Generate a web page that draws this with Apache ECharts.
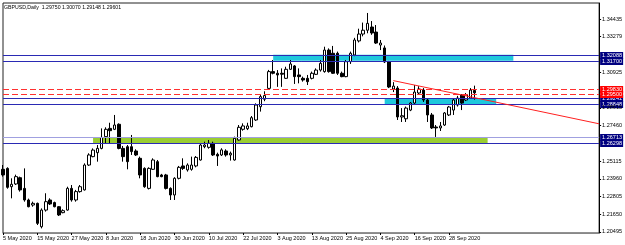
<!DOCTYPE html>
<html>
<head>
<meta charset="utf-8">
<script src="https://cdn.jsdelivr.net/npm/echarts@6/dist/echarts.min.js"></script>
<style>
html, body { margin: 0; padding: 0; background: #fff; }
#chart { width: 625px; height: 245px; }
</style>
</head>
<body>
<div id="chart"></div>
<script>
// daily bars from 5 May 2020
const opens = [
  1.2459, 1.2465, 1.2345, 1.2363, 1.2404, 1.2334, 1.2258, 1.2225, 1.2236, 1.2083,
  1.2192, 1.2258, 1.2241, 1.2214, 1.2175, 1.2192, 1.2334, 1.2258, 1.2313, 1.2324,
  1.2487, 1.2542, 1.2568, 1.2596, 1.2673, 1.2727, 1.2721, 1.2754, 1.2596, 1.2607,
  1.2607, 1.2579, 1.2531, 1.2465, 1.2334, 1.2459, 1.2509, 1.2422, 1.2422, 1.2334,
  1.2291, 1.2400, 1.2481, 1.2455, 1.2459, 1.2481, 1.2520, 1.2607, 1.2603, 1.2629,
  1.2557, 1.2553, 1.2579, 1.2553, 1.2520, 1.2651, 1.2721, 1.2725, 1.2738, 1.2782,
  1.2869, 1.2918, 1.2989, 1.3099, 1.3088, 1.3088, 1.3055, 1.3114, 1.3136, 1.3077,
  1.3055, 1.3055, 1.3055, 1.3081, 1.3109, 1.3099, 1.3240, 1.3219, 1.3219, 1.3088,
  1.3066, 1.3164, 1.3208, 1.3300, 1.3345, 1.3370, 1.3391, 1.3358, 1.3273, 1.3254,
  1.3162, 1.2985, 1.2991, 1.2802, 1.2790, 1.2847, 1.2893, 1.2959, 1.2978, 1.2913,
  1.2815, 1.2736, 1.2730, 1.2749, 1.2815, 1.2847, 1.2880, 1.2946, 1.2913, 1.2926,
  1.29750
];
const closes = [
  1.2422, 1.2341, 1.2361, 1.2411, 1.2324, 1.2258, 1.2214, 1.2236, 1.2105, 1.2192,
  1.2247, 1.2232, 1.2214, 1.2160, 1.2188, 1.2334, 1.2258, 1.2313, 1.2345, 1.2487,
  1.2553, 1.2585, 1.2596, 1.2668, 1.2721, 1.2712, 1.2749, 1.2596, 1.2542, 1.2509,
  1.2575, 1.2553, 1.2422, 1.2345, 1.2465, 1.2520, 1.2411, 1.2411, 1.2334, 1.2291,
  1.2400, 1.2472, 1.2465, 1.2487, 1.2487, 1.2537, 1.2618, 1.2618, 1.2629, 1.2553,
  1.2546, 1.2586, 1.2553, 1.2564, 1.2662, 1.2734, 1.2743, 1.2743, 1.2797, 1.2880,
  1.2935, 1.2942, 1.3099, 1.3088, 1.3077, 1.3082, 1.3114, 1.3149, 1.3066, 1.3066,
  1.3044, 1.3033, 1.3088, 1.3109, 1.3153, 1.3240, 1.3099, 1.3088, 1.3088, 1.3066,
  1.3164, 1.3219, 1.3306, 1.3345, 1.3370, 1.3415, 1.3352, 1.3286, 1.3286, 1.3162,
  1.2998, 1.3004, 1.2802, 1.2810, 1.2860, 1.2893, 1.2965, 1.2985, 1.2913, 1.2815,
  1.2730, 1.2730, 1.2743, 1.2828, 1.2867, 1.2913, 1.2926, 1.2893, 1.2946, 1.2978,
  1.29601
];
const lows = [
  1.2411, 1.2332, 1.2269, 1.2356, 1.2313, 1.2247, 1.2210, 1.2214, 1.2094, 1.2072,
  1.2182, 1.2225, 1.2210, 1.2153, 1.2171, 1.2188, 1.2247, 1.2247, 1.2306, 1.2320,
  1.2481, 1.2538, 1.2509, 1.2590, 1.2629, 1.2629, 1.2716, 1.2590, 1.2509, 1.2459,
  1.2553, 1.2546, 1.2400, 1.2338, 1.2327, 1.2455, 1.2407, 1.2407, 1.2327, 1.2258,
  1.2258, 1.2393, 1.2455, 1.2444, 1.2450, 1.2472, 1.2516, 1.2597, 1.2594, 1.2546,
  1.2481, 1.2546, 1.2542, 1.2516, 1.2516, 1.2647, 1.2712, 1.2716, 1.2734, 1.2776,
  1.2837, 1.2905, 1.2982, 1.3081, 1.2999, 1.2999, 1.3051, 1.3110, 1.3018, 1.3022,
  1.3033, 1.3011, 1.3048, 1.3077, 1.3099, 1.3092, 1.3092, 1.3084, 1.3077, 1.3062,
  1.3062, 1.3149, 1.3200, 1.3290, 1.3330, 1.3350, 1.3340, 1.3280, 1.3240, 1.3155,
  1.2991, 1.2965, 1.2782, 1.2769, 1.2769, 1.2840, 1.2880, 1.2952, 1.2900, 1.2769,
  1.2723, 1.2671, 1.2710, 1.2743, 1.2808, 1.2815, 1.2870, 1.2847, 1.2906, 1.2920,
  1.29148
];
const highs = [
  1.2487, 1.2472, 1.2400, 1.2424, 1.2411, 1.2465, 1.2267, 1.2247, 1.2241, 1.2203,
  1.2302, 1.2269, 1.2247, 1.2218, 1.2197, 1.2345, 1.2356, 1.2324, 1.2356, 1.2498,
  1.2564, 1.2596, 1.2618, 1.2727, 1.2734, 1.2764, 1.2815, 1.2760, 1.2612, 1.2618,
  1.2684, 1.2590, 1.2542, 1.2472, 1.2472, 1.2531, 1.2520, 1.2429, 1.2429, 1.2341,
  1.2407, 1.2481, 1.2531, 1.2498, 1.2542, 1.2546, 1.2629, 1.2640, 1.2651, 1.2640,
  1.2568, 1.2597, 1.2590, 1.2575, 1.2673, 1.2749, 1.2760, 1.2764, 1.2808, 1.2891,
  1.2946, 1.2970, 1.3110, 1.3175, 1.3109, 1.3120, 1.3131, 1.3175, 1.3142, 1.3120,
  1.3066, 1.3077, 1.3099, 1.3120, 1.3175, 1.3262, 1.3251, 1.3267, 1.3230, 1.3099,
  1.3175, 1.3230, 1.3320, 1.3380, 1.3420, 1.3483, 1.3430, 1.3404, 1.3306, 1.3270,
  1.3169, 1.3030, 1.3004, 1.2860, 1.2870, 1.2900, 1.3011, 1.3004, 1.2991, 1.2920,
  1.2828, 1.2749, 1.2769, 1.2834, 1.2874, 1.2920, 1.2940, 1.2952, 1.2959, 1.2991,
  1.30070
];

const priceTicks = [1.20495, 1.21650, 1.22805, 1.23960, 1.25115, 1.27460, 1.28615, 1.30925, 1.33279, 1.34435];

// horizontal levels
const blueLevels = [1.32088, 1.31700, 1.29241, 1.28848, 1.26298];
const lightLevels = [1.26713];
const redLevels = [1.29830, 1.29500];

// zones: [fromBar, toBar, low, high]
const cyanZones = [[63, 119, 1.31700, 1.32088], [89, 115, 1.28848, 1.29241]];
const greenZones = [[21, 113, 1.26298, 1.26713]];

// trend line: [bar, price] pairs
const trendLine = [[91, 1.3040], [139, 1.2757]];

const TOTAL_BARS = 140;
const LAST_BAR = opens.length - 1;
const MONTHS = ['Jan', 'Feb', 'Mar', 'Apr', 'May', 'Jun', 'Jul', 'Aug', 'Sep', 'Oct', 'Nov', 'Dec'];

// weekday calendar starting at 5 May 2020
const dates = [];
let t = Date.UTC(2020, 4, 5);
while (dates.length < TOTAL_BARS) {
  const d = new Date(t);
  const wd = d.getUTCDay();
  if (wd !== 0 && wd !== 6) {
    dates.push(d.getUTCDate() + ' ' + MONTHS[d.getUTCMonth()] + ' ' + d.getUTCFullYear());
  }
  t += 86400000;
}

const FONT = "'Liberation Sans', Arial, sans-serif";
const FS = 5.5;

const candles = opens.map((o, i) => [o, closes[i], lows[i], highs[i]]);

// only label bars that have data, every 8th bar
const showDateLabel = idx => idx % 8 === 0 && idx <= LAST_BAR;

const levelDefs = [
  ...blueLevels.map(v => ({ v, color: '#2a2ab4', type: 'solid', box: '#000080' })),
  ...lightLevels.map(v => ({ v, color: '#a0a0e0', type: 'solid', box: '#000080' })),
  ...redLevels.map(v => ({ v, color: '#ff3030', type: [6, 3], box: '#ff0000' })),
];

const lineData = [
  ...levelDefs.map(l => ({
    yAxis: l.v,
    lineStyle: { color: l.color, width: 1, type: l.type, opacity: 1 },
    label: { show: false },
  })),
  [
    { coord: [dates[trendLine[0][0]], trendLine[0][1]], lineStyle: { color: '#ff2020', width: 1, type: 'solid', opacity: 1 }, label: { show: false } },
    { coord: [dates[trendLine[1][0]], trendLine[1][1]] },
  ],
];

const areaData = [
  ...cyanZones.map(z => [
    { xAxis: dates[z[0]], yAxis: z[3], itemStyle: { color: '#1ec8dc' } },
    { xAxis: dates[z[1]], yAxis: z[2] },
  ]),
  ...greenZones.map(z => [
    { xAxis: dates[z[0]], yAxis: z[3], itemStyle: { color: '#9acd32' } },
    { xAxis: dates[z[1]], yAxis: z[2] },
  ]),
];

const chart = echarts.init(document.getElementById('chart'));
chart.setOption({
  animation: false,
  title: {
    text: 'GBPUSD,Daily  1.29750 1.30070 1.29148 1.29601',
    left: 4,
    top: 5,
    padding: 0,
    textStyle: { fontFamily: FONT, fontSize: 5.2, fontWeight: 'normal', color: '#000' },
  },
  grid: {
    left: 2, right: 25, top: 3, bottom: 12,
    show: true, borderColor: '#222', borderWidth: 1,
  },
  xAxis: {
    type: 'category',
    data: dates,
    boundaryGap: false,
    axisLine: { show: true, lineStyle: { color: '#888' } },
    axisTick: { show: true, interval: showDateLabel, length: 2, lineStyle: { color: '#000' } },
    axisLabel: {
      interval: showDateLabel, align: 'left', margin: 2,
      fontFamily: FONT, fontSize: FS, color: '#000',
    },
    splitLine: { show: false },
  },
  yAxis: {
    type: 'value',
    position: 'right',
    min: 1.20418,
    max: 1.35483,
    axisLine: { show: true, lineStyle: { color: '#000' } },
    axisTick: { show: true, length: 2, customValues: priceTicks, lineStyle: { color: '#000' } },
    axisLabel: {
      customValues: priceTicks,
      margin: 3,
      formatter: v => v.toFixed(5),
      fontFamily: FONT, fontSize: FS, color: '#000',
    },
    splitLine: { show: false },
  },
  series: [
    {
      // carrier for zones and levels
      type: 'line',
      data: [],
      markArea: { silent: true, data: areaData },
      markLine: { silent: true, precision: 5, symbol: ['none', 'none'], animation: false, data: lineData },
    },
    {
      type: 'candlestick',
      data: candles,
      barWidth: 3,
      itemStyle: {
        color: '#fff',
        color0: '#000',
        borderColor: '#000',
        borderColor0: '#000',
        borderWidth: 1,
      },
    },
  ],
});

// price boxes on the right axis, placed with the axis scale
const gridRect = chart.getModel().getComponent('grid').coordinateSystem.getRect();
chart.setOption({
  graphic: levelDefs.map(l => {
    const y = chart.convertToPixel({ yAxisIndex: 0 }, l.v);
    return {
      type: 'group',
      x: gridRect.x + gridRect.width + 1,
      y: Math.round(y) - 3,
      z: 100,
      children: [
        { type: 'rect', shape: { x: 0, y: 0, width: 23, height: 7 }, style: { fill: l.box } },
        {
          type: 'text', x: 2, y: 3.5,
          style: { text: l.v.toFixed(5), fill: '#fff', font: FS + 'px ' + FONT, textVerticalAlign: 'middle' },
        },
      ],
    };
  }),
});
</script>
</body>
</html>
